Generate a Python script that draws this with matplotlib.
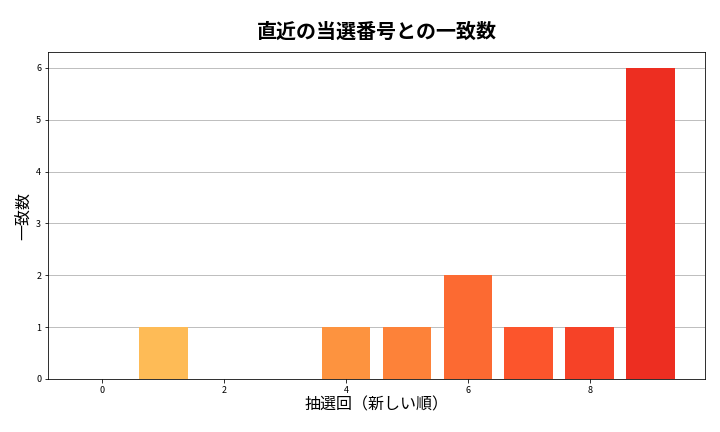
import numpy as np
import matplotlib
matplotlib.use('Agg')
import matplotlib.pyplot as plt

plt.rcParams['font.family'] = ['Noto Sans CJK JP', 'DejaVu Sans']

draws = [0, 1, 2, 3, 4, 5, 6, 7, 8, 9]
matches = [0, 1, 0, 0, 1, 1, 2, 1, 1, 6]

colors = plt.cm.YlOrRd(np.linspace(0.3, 0.7, len(draws)))

fig, ax = plt.subplots(figsize=(10, 6), dpi=72)
ax.bar(draws, matches, color=colors, width=0.8, zorder=2)
ax.grid(axis='y', color='#b0b0b0', linewidth=0.8, zorder=0)
ax.set_xticks([0, 2, 4, 6, 8])
ax.tick_params(labelsize=9)
ax.set_title('直近の当選番号との一致数', fontsize=20, fontweight='bold', pad=14)
ax.set_xlabel('抽選回（新しい順）', fontsize=16, labelpad=2)
ax.set_ylabel('一致数', fontsize=16)
plt.subplots_adjust(left=0.067, right=0.979, top=0.879, bottom=0.123)
plt.savefig('out.png')
